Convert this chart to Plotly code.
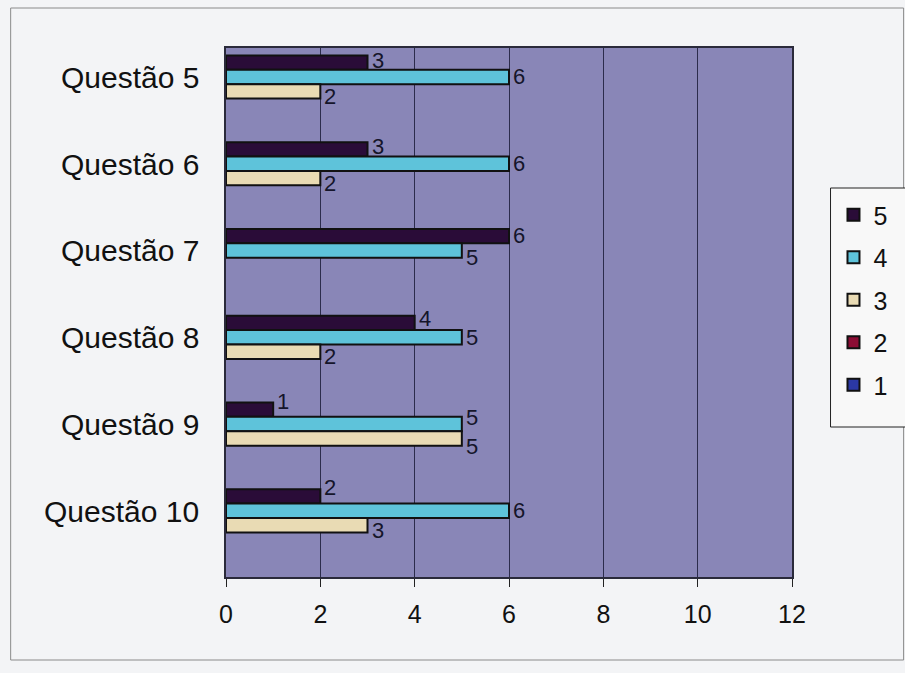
import plotly.graph_objects as go

# Questions on the category axis, top to bottom
questions = ["Questão 5", "Questão 6", "Questão 7", "Questão 8", "Questão 9", "Questão 10"]

# Answer counts per rating (None = no answers with that rating)
rating_5 = [3, 3, 6, 4, 1, 2]
rating_4 = [6, 6, 5, 5, 5, 6]
rating_3 = [2, 2, None, 2, 5, 3]
rating_2 = [None, None, None, None, None, None]
rating_1 = [None, None, None, None, None, None]

x_ticks = [0, 2, 4, 6, 8, 10, 12]

series = [
    ("5", rating_5, "#2a0c38"),
    ("4", rating_4, "#5ec3da"),
    ("3", rating_3, "#e9dbb4"),
    ("2", rating_2, "#8c0c34"),
    ("1", rating_1, "#2b38a4"),
]

# vertical nudge (px, up = positive) of each value label, per series and question
label_nudge = [
    [2, 2, 0, 4, 8, 8],
    [0, 0, -7, 0, 6, 0],
    [-5, -5, 0, -5, -8, -5],
    [0] * 6,
    [0] * 6,
]

W, H = 905, 673
L, R, T, B = 226, 106, 48, 96
plot_w = W - L - R
plot_h = H - T - B
BARGAP = 0.17
band = plot_h / len(questions)
bar_h = band * (1 - BARGAP) / len(series)

FONT = "Liberation Sans, Arial, sans-serif"


def px_x(p):
    return (p - L) / plot_w


def px_y(p):
    return (H - B - p) / plot_h


fig = go.Figure()
annotations = []
for i, (name, vals, color) in enumerate(series):
    fig.add_trace(go.Bar(
        y=questions,
        x=vals,
        name=name,
        orientation="h",
        legendgroup=name,
        marker=dict(color=color, line=dict(color="#111111", width=2)),
    ))
    # value label just past the end of each bar
    for j, (q, v) in enumerate(zip(questions, vals)):
        if v is None:
            continue
        annotations.append(dict(
            x=v, y=q, xref="x", yref="y", text=str(v), showarrow=False,
            xanchor="left", yanchor="middle", xshift=2,
            yshift=(2 - i) * bar_h + label_nudge[i][j],
            font=dict(family=FONT, size=22, color="#15152a"),
        ))

# category labels sit a little above the group centres
for q in questions:
    annotations.append(dict(
        x=px_x(201), y=q, xref="paper", yref="y", text=q, showarrow=False,
        xanchor="right", yanchor="middle", yshift=14,
        font=dict(family=FONT, size=30, color="#111111"),
    ))

fig.update_layout(
    width=W,
    height=H,
    margin=dict(l=L, r=R, t=T, b=B),
    paper_bgcolor="#f3f4f6",
    plot_bgcolor="#8986b7",
    barmode="group",
    bargap=BARGAP,
    bargroupgap=0,
    font=dict(family=FONT, color="#111111"),
    legend=dict(
        x=px_x(841), y=px_y(192), xanchor="left", yanchor="top",
        bgcolor="rgba(0,0,0,0)", borderwidth=0,
        font=dict(size=25), tracegroupgap=7, itemwidth=30,
        traceorder="grouped",
    ),
    annotations=annotations,
    shapes=[
        dict(
            type="rect", xref="paper", yref="paper",
            x0=px_x(8), x1=px_x(912), y0=px_y(660), y1=px_y(8),
            line=dict(color="#8a8a8a", width=1), layer="below",
        ),
        # legend frame, running past the right edge of the page
        dict(
            type="rect", xref="paper", yref="paper",
            x0=px_x(838), x1=px_x(915), y0=px_y(427), y1=px_y(188),
            line=dict(color="#222222", width=1), fillcolor="#f8f8f8",
            layer="below",
        ),
    ],
)

fig.update_xaxes(
    range=[0, 12], tickvals=x_ticks, ticktext=[str(v) for v in x_ticks],
    showgrid=True, gridcolor="#2c2c4c", gridwidth=1,
    showline=True, linecolor="#2a2a3a", linewidth=1.5, mirror=True,
    ticks="outside", ticklen=8, tickcolor="#222222",
    tickfont=dict(size=25), ticklabelstandoff=6, zeroline=False,
)
fig.update_yaxes(
    autorange="reversed",
    showline=True, linecolor="#2a2a3a", linewidth=1.5, mirror=True,
    ticks="", showticklabels=False,
    showgrid=False,
)

fig.write_html("out.html")
